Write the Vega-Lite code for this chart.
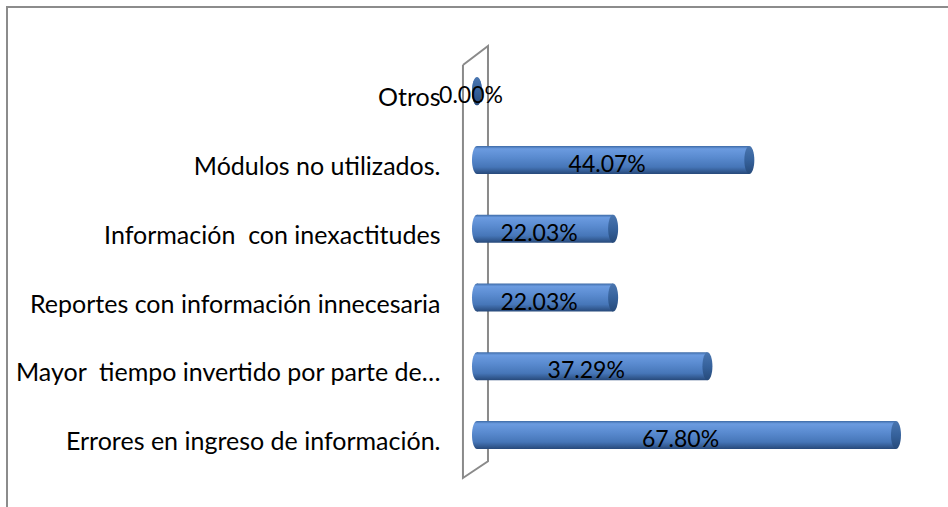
{
  "$schema": "https://vega.github.io/schema/vega-lite/v6.json",
  "width": 943,
  "height": 502,
  "padding": {"left": 7, "top": 7, "right": -2, "bottom": -2},
  "autosize": {"type": "none"},
  "background": "white",
  "config": {"view": {"stroke": "#8c8c8c", "strokeWidth": 2}, "font": "Lato"},
  "datasets": {
    "bars": [
      {"category": "Otros", "value": 0.0, "label": "0.00%"},
      {"category": "Módulos no utilizados.", "value": 44.07, "label": "44.07%"},
      {"category": "Información  con inexactitudes", "value": 22.03, "label": "22.03%"},
      {"category": "Reportes con información innecesaria", "value": 22.03, "label": "22.03%"},
      {"category": "Mayor  tiempo invertido por parte de…", "value": 37.29, "label": "37.29%"},
      {"category": "Errores en ingreso de información.", "value": 67.8, "label": "67.80%"}
    ],
    "wall": [
      {"order": 1, "wx": -2.27, "wy": -0.382},
      {"order": 2, "wx": 1.78, "wy": -0.658},
      {"order": 3, "wx": 1.78, "wy": 5.382},
      {"order": 4, "wx": -2.27, "wy": 5.6255},
      {"order": 5, "wx": -2.27, "wy": -0.382}
    ]
  },
  "layer": [
    {
      "data": {"name": "wall"},
      "mark": {"type": "line", "stroke": "#8a8a8a", "strokeWidth": 2, "clip": false},
      "encoding": {
        "x": {"field": "wx", "type": "quantitative", "scale": {"domain": [-76.05, 76.54], "zero": false, "nice": false}, "axis": null},
        "y": {"field": "wy", "type": "quantitative", "scale": {"domain": [-1.2255, 6.0764], "reverse": true, "zero": false, "nice": false}, "axis": null},
        "order": {"field": "order", "type": "quantitative"}
      }
    },
    {
      "data": {"name": "bars"},
      "encoding": {
        "y": {
          "field": "category",
          "type": "nominal",
          "sort": ["Otros", "Módulos no utilizados.", "Información  con inexactitudes", "Reportes con información innecesaria", "Mayor  tiempo invertido por parte de…", "Errores en ingreso de información."],
          "scale": {"paddingInner": 0.5927, "paddingOuter": 0.9474, "align": 0.5394},
          "axis": {
            "title": null,
            "orient": "left",
            "offset": -456,
            "labelPadding": 23,
            "ticks": false,
            "domain": false,
            "grid": false,
            "labelFont": "Lato",
            "labelFontSize": 25,
            "labelColor": "#000000",
            "labelLimit": 0,
            "labelAlign": "right",
            "labelBaseline": "middle",
            "labelOffset": 7,
            "labelExpr": "replace(datum.label, '  ', ' \u00a0')",
            "encode": {"labels": {
              "update": {"dx": [{"test": "indexof(datum.value, 'Mayor') === 0", "value": 15}, {"value": 0}]}
            }}
          }
        }
      },
      "layer": [
        {
          "mark": {"type": "point", "filled": true, "shape": "M0,-1A0.357,1,0,1,1,0,1A0.357,1,0,1,1,0,-1Z", "size": 784, "opacity": 1, "strokeWidth": 0,
            "fill": {"gradient": "linear", "x1": 0, "y1": 0, "x2": 0, "y2": 1, "stops": [
              {"offset": 0, "color": "#3d6aa6"}, {"offset": 0.1, "color": "#6b9be0"}, {"offset": 0.4, "color": "#5a8bd0"}, {"offset": 0.75, "color": "#4676b8"}, {"offset": 1, "color": "#27497a"}]}},
          "encoding": {"x": {"datum": 0, "type": "quantitative", "scale": {"domain": [-76.05, 76.54], "zero": false, "nice": false}, "axis": null}}
        },
        {
          "mark": {"type": "bar",
            "color": {"gradient": "linear", "x1": 0, "y1": 0, "x2": 0, "y2": 1, "stops": [
              {"offset": 0, "color": "#3d6aa6"}, {"offset": 0.1, "color": "#6b9be0"}, {"offset": 0.4, "color": "#5a8bd0"}, {"offset": 0.75, "color": "#4676b8"}, {"offset": 1, "color": "#27497a"}]}},
          "encoding": {
            "x": {"field": "value", "type": "quantitative", "scale": {"domain": [-76.05, 76.54], "zero": false, "nice": false}, "axis": null},
            "x2": {"datum": 0}
          }
        },
        {
          "mark": {"type": "point", "filled": true, "shape": "M0,-1A0.357,1,0,1,1,0,1A0.357,1,0,1,1,0,-1Z", "size": 784, "opacity": 1, "strokeWidth": 0,
            "fill": {"gradient": "linear", "x1": 0, "y1": 0, "x2": 0, "y2": 1, "stops": [
              {"offset": 0, "color": "#4a76b0"}, {"offset": 0.5, "color": "#36629c"}, {"offset": 1, "color": "#264a7a"}]}},
          "encoding": {"x": {"field": "value", "type": "quantitative", "scale": {"domain": [-76.05, 76.54], "zero": false, "nice": false}, "axis": null}}
        },
        {
          "mark": {"type": "text", "font": "Lato", "fontSize": 23, "color": "#000000", "baseline": "alphabetic", "align": "center", "dy": 12, "dx": -6},
          "encoding": {
            "x": {"field": "value", "type": "quantitative", "scale": {"domain": [-152.1, 153.08], "zero": false, "nice": false}, "axis": null},
            "text": {"field": "label"}
          }
        }
      ],
      "resolve": {"scale": {"x": "independent"}}
    }
  ],
  "resolve": {"scale": {"y": "independent", "x": "independent"}}
}
